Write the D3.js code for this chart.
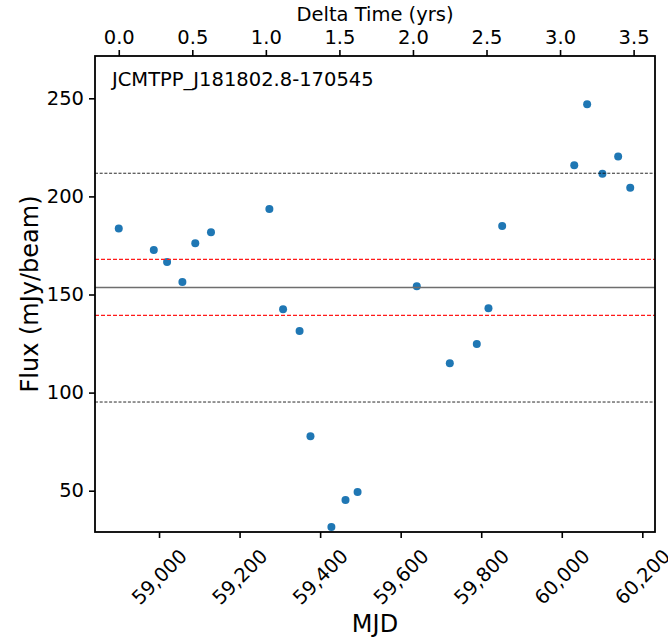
<!DOCTYPE html>
<html><head><meta charset="utf-8">
<script src="https://cdn.jsdelivr.net/npm/d3@7"></script>
<style>body{margin:0;background:#fff}svg{display:block}text{font-family:"DejaVu Sans",sans-serif;fill:#000}</style>
</head><body>
<script>
const sourceName = "JCMTPP_J181802.8-170545";
const mjd  = [58900, 58987, 59020, 59058, 59090, 59129, 59274, 59308, 59349, 59376, 59428, 59463, 59493, 59640, 59722, 59789, 59818, 59852, 60031, 60063, 60101, 60140, 60170];
const flux = [183.7, 172.7, 166.6, 156.4, 176.1, 181.7, 193.6, 142.5, 131.4, 77.7, 31.5, 45.3, 49.3, 154.2, 114.9, 124.8, 143.0, 184.9, 215.9, 247.0, 211.6, 220.4, 204.4];
const meanFlux = 153.6;
const sdLines = [167.9, 139.4];
const outerLines = [211.8, 95.2];
const mjdTicks = [59000, 59200, 59400, 59600, 59800, 60000, 60200];
const yearTicks = [0.0, 0.5, 1.0, 1.5, 2.0, 2.5, 3.0, 3.5];
const fluxTicks = [50, 100, 150, 200, 250];

const W = 668, H = 641;
const L = 95, R = 655, T = 56, B = 532;
const mjdDomain = [58841, 60231.5];
const t0 = mjd[0];

const svg = d3.select("body").append("svg").attr("width", W).attr("height", H);
const x = d3.scaleLinear().domain(mjdDomain).range([L, R]);
const xTop = d3.scaleLinear().domain(mjdDomain.map(d => (d - t0) / 365.25)).range([L, R]);
const y = d3.scaleLinear().domain([28.95, 271.56]).range([B, T]);

// points
svg.append("g").selectAll("circle").data(mjd).join("circle")
  .attr("cx", (d) => x(d)).attr("cy", (d, i) => y(flux[i])).attr("r", 4)
  .attr("fill", "#1f77b4");

// lines
const g = svg.append("g");
g.append("line").attr("x1", L).attr("x2", R).attr("y1", y(meanFlux)).attr("y2", y(meanFlux))
  .attr("stroke", "#6e6e6e").attr("stroke-width", 1.5);
g.selectAll(".sd").data(sdLines).join("line").attr("class","sd")
  .attr("x1", L).attr("x2", R).attr("y1", d => y(d)).attr("y2", d => y(d))
  .attr("stroke", "#ff1a1a").attr("stroke-width", 1.3).attr("stroke-dasharray", "4,2");
g.selectAll(".out").data(outerLines).join("line").attr("class","out")
  .attr("x1", L).attr("x2", R).attr("y1", d => y(d)).attr("y2", d => y(d))
  .attr("stroke", "#111").attr("stroke-width", 0.9).attr("stroke-dasharray", "3,1.7");

// axes
const fs = 19.5;
const ax = svg.append("g").attr("transform", `translate(0,${B})`)
  .call(d3.axisBottom(x).tickValues(mjdTicks).tickFormat(d3.format(",")).tickSize(6).tickPadding(4));
ax.selectAll("text").attr("font-size", fs).attr("text-anchor", "middle").attr("dy", null)
  .attr("dominant-baseline", "central")
  .attr("transform", d => `translate(0,${45}) rotate(-45)`).attr("y", 0);

const axT = svg.append("g").attr("transform", `translate(0,${T})`)
  .call(d3.axisTop(xTop).tickValues(yearTicks).tickFormat(d3.format(".1f")).tickSize(6).tickPadding(6));
axT.selectAll("text").attr("font-size", fs);

const ay = svg.append("g").attr("transform", `translate(${L},0)`)
  .call(d3.axisLeft(y).tickValues(fluxTicks).tickSize(6).tickPadding(5));
ay.selectAll("text").attr("font-size", fs);

svg.selectAll(".domain").remove();
svg.selectAll(".tick line").attr("stroke", "#000").attr("stroke-width", 1.6);

svg.append("rect").attr("x", L).attr("y", T).attr("width", R - L).attr("height", B - T)
  .attr("fill", "none").attr("stroke", "#000").attr("stroke-width", 1.8);

// labels
svg.append("text").attr("x", 112).attr("y", 86).attr("font-size", fs).text(sourceName);
svg.append("text").attr("x", (L + R) / 2).attr("y", 21).attr("text-anchor", "middle").attr("font-size", fs).text("Delta Time (yrs)");
svg.append("text").attr("x", (L + R) / 2).attr("y", 632).attr("text-anchor", "middle").attr("font-size", 24).text("MJD");
svg.append("text").attr("transform", `translate(38,${(T + B) / 2}) rotate(-90)`).attr("text-anchor", "middle").attr("font-size", 24).text("Flux (mJy/beam)");
</script>
</body></html>
